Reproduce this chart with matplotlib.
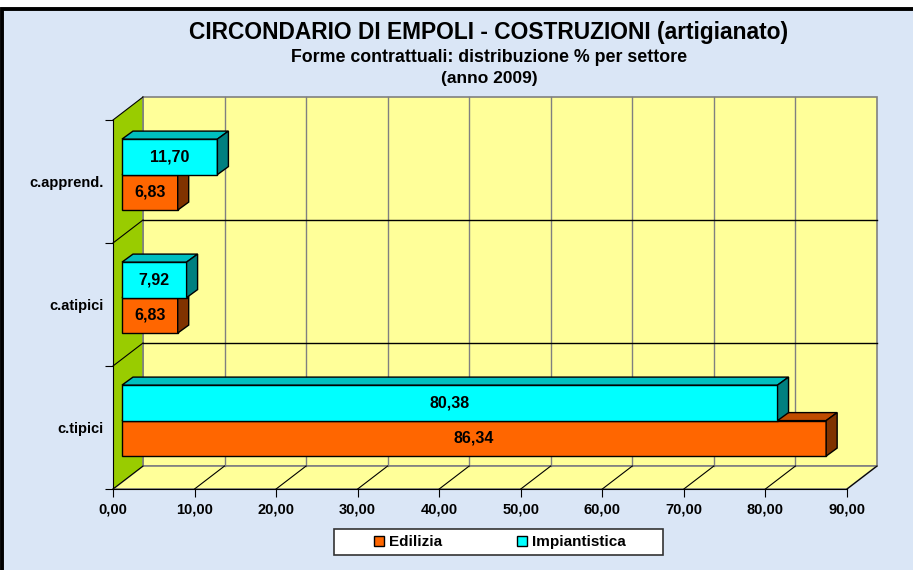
import matplotlib.pyplot as plt
from matplotlib.patches import Polygon, Rectangle, Patch

# dati
categorie = ['c.tipici', 'c.atipici', 'c.apprend.']
edilizia = [86.34, 6.83, 6.83]
impiantistica = [80.38, 7.92, 11.70]
serie = ['Edilizia', 'Impiantistica']
xticks = [0, 10, 20, 30, 40, 50, 60, 70, 80, 90]

# colori (fronte, sopra, lato)
col_edi = ('#FF6600', '#C04C00', '#803300')
col_imp = ('#00FFFF', '#00BFBF', '#008080')
giallo = '#FFFF99'
verde = '#99CC00'
sfondo = '#DAE6F6'

plt.rcParams['font.family'] = ['Liberation Sans', 'DejaVu Sans']
plt.rcParams['font.weight'] = 'bold'

W, H = 913, 570
fig = plt.figure(figsize=(W / 100, H / 100), dpi=100)
fig.patch.set_facecolor('white')
fig.add_artist(Rectangle((2 / W, -0.05), 1.1, 1.05 - 9 / H, transform=fig.transFigure,
                         facecolor=sfondo, edgecolor='black', lw=2.8, zorder=-10))

# piano frontale del grafico (pixel 113..847 x, 120..489 y)
ax = fig.add_axes([113 / W, (H - 489) / H, 734 / W, 369 / H])
ax.set_xlim(0, 90)
ax.set_ylim(0, 3)
ax.patch.set_alpha(0)

# profondita' 3D in unita' dati
DX = 30 * 90 / 734
DY = 23 * 3 / 369
dx0, dy0 = 0.3 * DX, 0.3 * DY
dxb, dyb = 11 * 90 / 734, 8 * 3 / 369
h = 35.5 / 123

# pareti
ax.add_patch(Rectangle((DX, DY), 90, 3, facecolor=giallo, edgecolor='#808080', lw=1.2,
                       clip_on=False, zorder=0))
ax.add_patch(Polygon([(0, 0), (90, 0), (90 + DX, DY), (DX, DY)], closed=True,
                     facecolor=giallo, edgecolor='#808080', lw=1.2, clip_on=False, zorder=0))
ax.add_patch(Polygon([(0, 0), (DX, DY), (DX, 3 + DY), (0, 3)], closed=True,
                     facecolor=verde, edgecolor='none', clip_on=False, zorder=0.5))
ax.plot([DX, DX], [DY, 3 + DY], color='#808080', lw=1.2, clip_on=False, zorder=0.6)

# griglia
for x in xticks[1:-1]:
    ax.plot([x + DX, x + DX], [DY, 3 + DY], color='#808080', lw=1, clip_on=False, zorder=0.6)
for x in xticks[1:]:
    ax.plot([x, x + DX], [0, DY], color='black', lw=0.8, clip_on=False, zorder=0.6)
for y in [1, 2]:
    ax.plot([DX, 90 + DX], [y + DY, y + DY], color='black', lw=1, clip_on=False, zorder=0.6)
for y in [0, 1, 2, 3]:
    ax.plot([0, DX], [y, y + DY], color='black', lw=0.8, clip_on=False, zorder=0.7)


def barre3d(valori, basi, colori, nome):
    bars = ax.barh(basi, valori, height=h, left=dx0, align='edge', color=colori[0],
                   edgecolor='black', lw=1, zorder=2, label=nome, clip_on=False)
    for v, yb in zip(valori, basi):
        yt = yb + h
        x1 = dx0 + v
        ax.add_patch(Polygon([(dx0, yt), (x1, yt), (x1 + dxb, yt + dyb), (dx0 + dxb, yt + dyb)],
                             closed=True, facecolor=colori[1], edgecolor='black', lw=1,
                             clip_on=False, zorder=2))
        ax.add_patch(Polygon([(x1, yb), (x1 + dxb, yb + dyb), (x1 + dxb, yt + dyb), (x1, yt)],
                             closed=True, facecolor=colori[2], edgecolor='black', lw=1,
                             clip_on=False, zorder=2))
        ax.text(dx0 + v / 2, yb + h / 2, f'{v:.2f}'.replace('.', ','), ha='center',
                va='center', fontsize=11.5, fontweight='bold', zorder=3)
    return bars


centri = [i + 0.5 for i in range(len(categorie))]
b1 = barre3d(edilizia, [c - h + dy0 for c in centri], col_edi, serie[0])
b2 = barre3d(impiantistica, [c + dy0 for c in centri], col_imp, serie[1])

# assi
for s in ['top', 'right']:
    ax.spines[s].set_visible(False)
ax.spines['left'].set_zorder(1)
ax.spines['bottom'].set_zorder(1)
ax.set_xticks(xticks)
ax.set_xticklabels([f'{x:.2f}'.replace('.', ',') for x in xticks], fontsize=10.5, fontweight='bold')
ax.tick_params(axis='x', length=6, pad=4)
ax.set_yticks([0, 1, 2, 3])
ax.set_yticklabels([])
ax.set_yticks(centri, minor=True)
ax.set_yticklabels(categorie, minor=True, fontsize=10.5, fontweight='bold')
ax.tick_params(axis='y', which='major', length=6)
ax.tick_params(axis='y', which='minor', length=0, pad=7)

fig.text(489 / W, 1 - 33 / H, 'CIRCONDARIO DI EMPOLI - COSTRUZIONI (artigianato)',
         ha='center', va='center', fontsize=16.4, fontweight='bold')
fig.text(489 / W, 1 - 57 / H, 'Forme contrattuali: distribuzione % per settore',
         ha='center', va='center', fontsize=12.8, fontweight='bold')
fig.text(489 / W, 1 - 78 / H, '(anno 2009)', ha='center', va='center',
         fontsize=12.5, fontweight='bold')

# legenda
fig.add_artist(Rectangle((334 / W, 1 - 555 / H), 329 / W, 26 / H, transform=fig.transFigure,
                         facecolor='white', edgecolor='#333333', lw=1.2, zorder=5))
handles = [Patch(facecolor=col_edi[0], edgecolor='black'),
           Patch(facecolor=col_imp[0], edgecolor='black')]
leg = fig.legend(handles, serie, loc='center', ncol=2,
                 bbox_to_anchor=(500 / W, 1 - 542 / H), frameon=False,
                 handlelength=0.65, handleheight=0.65, handletextpad=0.35,
                 columnspacing=4.9, borderaxespad=0, borderpad=0,
                 prop={'weight': 'bold', 'size': 11})
leg.set_zorder(6)

fig.savefig('out.png', dpi=100, facecolor=fig.get_facecolor())
